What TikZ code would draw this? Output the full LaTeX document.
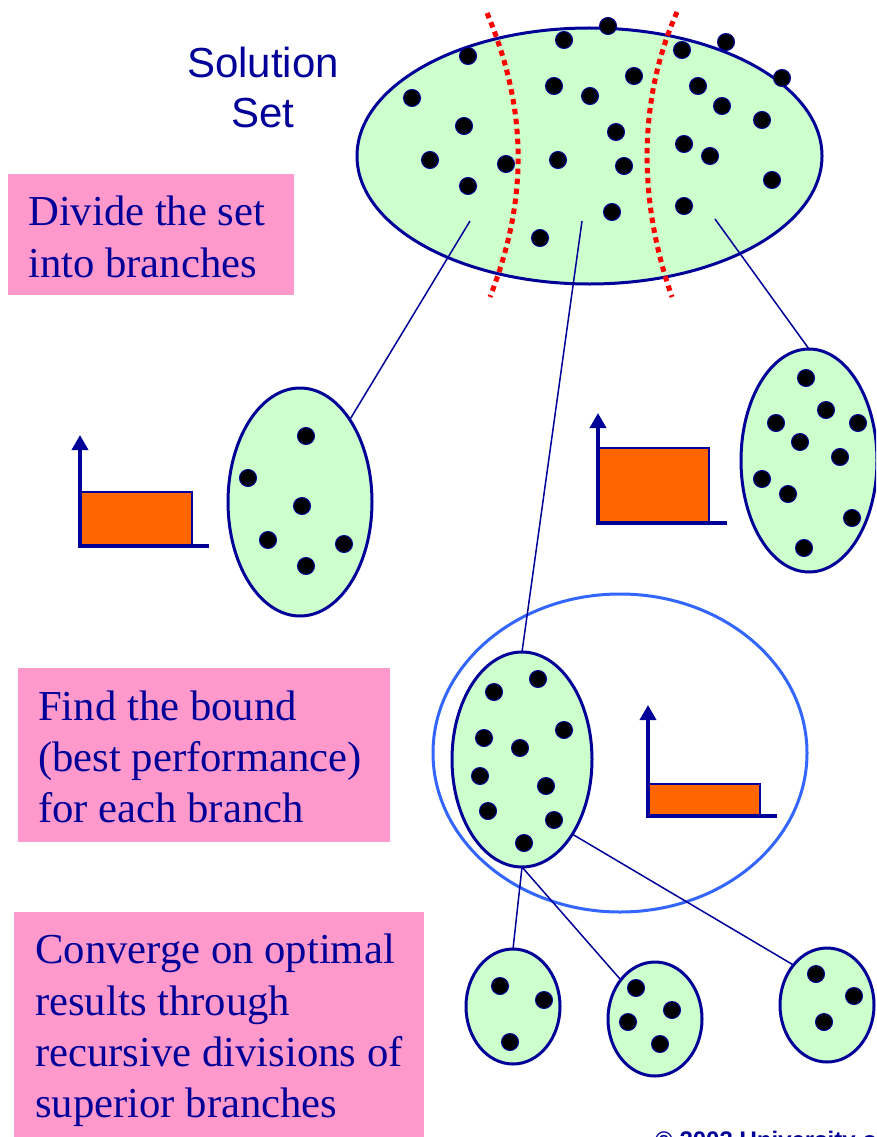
\documentclass[tikz,border=0pt]{standalone}
\usepackage{fontspec}
\setmainfont{Liberation Serif}
\newfontfamily\arialf{Liberation Sans}
\usetikzlibrary{shapes.geometric,arrows.meta}
\definecolor{navy}{HTML}{000099}
\definecolor{mint}{HTML}{CCFFCC}
\definecolor{pinkb}{HTML}{FF99CC}
\definecolor{orng}{HTML}{FF6600}
\definecolor{bluec}{HTML}{3366FF}
\begin{document}
\begin{tikzpicture}[x=1pt,y=-1pt,
 blob/.style={ellipse,draw=navy,fill=mint,line width=3,inner sep=0,outer sep=0},
 dotst/.style={fill=black,draw=navy,line width=1},
 conn/.style={draw=navy,line width=1.5},
 pinkbox/.style={rectangle,fill=pinkb,inner sep=0,outer sep=0,anchor=north west},
 boxtext/.style={anchor=base west,inner sep=0,text=navy,font=\fontsize{42.7}{50}\selectfont},
 sstext/.style={anchor=base,inner sep=0,text=navy,font=\arialf\fontsize{42}{50}\selectfont},
 divline/.style={draw=red,line width=5,dash pattern=on 5.5pt off 4.5pt},
 axisst/.style={draw=navy,line width=3.5,line join=miter,-{Triangle[width=16pt,length=15pt]}},
 barst/.style={fill=orng,draw=navy,line width=2},
]
\useasboundingbox (0,0) rectangle (876,1137);
\clip (0,0) rectangle (876,1137);

% pink boxes and texts
\node[pinkbox,minimum width=286,minimum height=121] (box1) at (8,174) {};
\node[boxtext] (t11) at (28,225) {Divide the set};
\node[boxtext] (t12) at (28,277) {into branches};

\node[pinkbox,minimum width=372,minimum height=174] (box2) at (18,668) {};
\node[boxtext] (t21) at (38,720) {Find the bound};
\node[boxtext] (t22) at (38,771) {(best performance)};
\node[boxtext] (t23) at (38,822) {for each branch};

\node[pinkbox,minimum width=410,minimum height=225] (box3) at (14,912) {};
\node[boxtext] (t31) at (35,963) {Converge on optimal};
\node[boxtext] (t32) at (35,1015) {results through};
\node[boxtext] (t33) at (35,1066) {recursive divisions of};
\node[boxtext] (t34) at (35,1117) {superior branches};

\node[sstext] (ss1) at (263,78) {Solution};
\node[sstext] (ss2) at (263,128) {Set};

% big ellipse
\node[blob,minimum width=465,minimum height=256] (big) at (589.5,156) {};
\draw[divline] (487,13) .. controls (528,110) and (528,200) .. (490,297);
\draw[divline] (677,12) .. controls (638,100) and (638,200) .. (672,297);
\foreach \p in {(608,26),(564,40),(468,56),(682,50),(726,42),(782,78),(412,98),
 (554,86),(590,96),(634,76),(698,86),(722,106),(762,120),(464,126),(616,132),
 (684,144),(710,156),(430,160),(506,164),(558,160),(624,166),(468,186),(772,180),
 (684,206),(612,212),(540,238)}
 \filldraw[dotst] \p circle[radius=8.5pt];

% blue bound circle
\node[ellipse,draw=bluec,line width=3,inner sep=0,outer sep=0,minimum width=374,minimum height=318] (bound) at (620,753) {};

% child ellipses
\node[blob,minimum width=144,minimum height=228] (left) at (300,502) {};
\foreach \p in {(306,436),(248,478),(302,506),(268,540),(344,544),(306,566)}
 \filldraw[dotst] \p circle[radius=8.5pt];

\node[blob,minimum width=136,minimum height=223] (right) at (809,460.5) {};
\foreach \p in {(806,378),(826,410),(776,423),(858,423),(800,442),(840,457),
 (762,479),(788,494),(852,518),(804,548)}
 \filldraw[dotst] \p circle[radius=8.5pt];

\node[blob,minimum width=140,minimum height=215] (mid) at (522,759.5) {};
\foreach \p in {(494,692),(538,679),(564,730),(484,738),(520,748),(480,776),
 (546,786),(488,811),(554,820),(524,843)}
 \filldraw[dotst] \p circle[radius=8.5pt];

\node[blob,minimum width=94,minimum height=115] (b1) at (513,1006.5) {};
\foreach \p in {(500,986),(544,1000),(510,1042)}
 \filldraw[dotst] \p circle[radius=8.5pt];
\node[blob,minimum width=94,minimum height=114] (b2) at (655,1019) {};
\foreach \p in {(636,988),(672,1010),(628,1022),(660,1044)}
 \filldraw[dotst] \p circle[radius=8.5pt];
\node[blob,minimum width=94,minimum height=114] (b3) at (827,1005) {};
\foreach \p in {(816,974),(854,996),(824,1022)}
 \filldraw[dotst] \p circle[radius=8.5pt];

% histograms
\draw[barst] (80,546) rectangle (192,492);
\draw[axisst] (209,546) -- (80,546) -- (80,435);
\draw[barst] (598,523) rectangle (709,448);
\draw[axisst] (727,523) -- (598,523) -- (598,413);
\draw[barst] (648,816) rectangle (760,784);
\draw[axisst] (777,816) -- (648,816) -- (648,705);

% connectors
\coordinate (p1) at (470,221);
\coordinate (p2) at (582,221);
\coordinate (p3) at (715,219);
\draw[conn] (p1) -- (left);
\draw[conn] (p2) -- (mid.north);
\draw[conn] (p3) -- (right.north);
\draw[conn] (mid.south) -- (b1.north);
\draw[conn] (mid.south) -- (b2);
\draw[conn] (mid.-56) -- (b3.130);

% copyright
\node[anchor=base west,inner sep=0,text=navy,font=\arialf\bfseries\fontsize{24}{28}\selectfont] (copy) at (655,1148) {© 2003 University of};
\end{tikzpicture}
\end{document}
